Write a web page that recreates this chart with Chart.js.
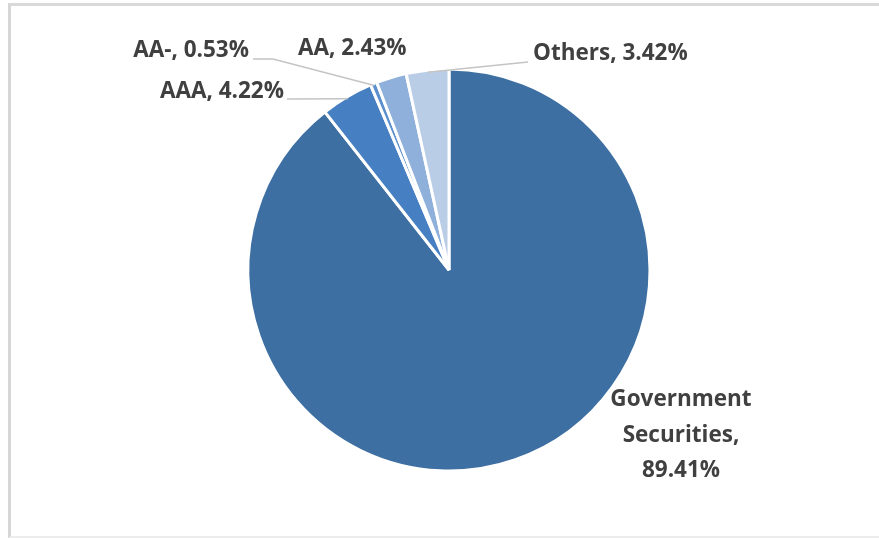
<!DOCTYPE html>
<html>
<head>
<meta charset="utf-8">
<title>Portfolio by rating</title>
<script src="https://cdn.jsdelivr.net/npm/chart.js@4.4.1/dist/chart.umd.min.js"></script>
<style>
  html, body { margin: 0; padding: 0; background: #fff; overflow: hidden; }
  .frame {
    position: absolute; left: 8px; top: 3px; width: 880px; height: 530px;
    border-left: 3px solid #d6d6d6; border-top: 3px solid #d9d9d9; border-bottom: 2px solid #ececec;
  }
  #pie { position: absolute; left: 0; top: 0; }
</style>
</head>
<body>
<div class="frame"></div>
<canvas id="pie" width="879" height="538"></canvas>
<script>
// slices, clockwise from 12 o'clock
const categories = ["Government Securities", "AAA", "AA-", "AA", "Others"];
const shares = [89.41, 4.22, 0.53, 2.43, 3.42];
const sliceColors = ["#3d6fa2", "#4680c2", "#5b8fcd", "#8eb0da", "#b9cde6"];

// where each label sits, relative to the pie centre
const labelLayout = [
  { dx: 232, dy: 130, align: "center", wrap: true, lineGap: 35.5 },
  { dx: -165, dy: -178, align: "right", leader: [[-162, -171]] },
  { dx: -200, dy: -219, align: "right", leader: [[-196, -211], [-176, -211]] },
  { dx: -151, dy: -221, align: "left" },
  { dx: 84, dy: -216, align: "left", leader: [[79, -208]] },
];

const labelFont = "bold 22.5px 'Open Sans', 'DejaVu Sans', sans-serif";

const outsideLabels = {
  id: "outsideLabels",
  afterDatasetsDraw(chart) {
    const ctx = chart.ctx;
    const arcs = chart.getDatasetMeta(0).data;
    ctx.save();
    arcs.forEach((arc, i) => {
      const lay = labelLayout[i];
      const cx = arc.x, cy = arc.y;
      const mid = (arc.startAngle + arc.endAngle) / 2;
      const r = arc.outerRadius;

      // leader line from label to the slice edge
      if (lay.leader) {
        ctx.beginPath();
        lay.leader.forEach((p, k) => {
          if (k === 0) ctx.moveTo(cx + p[0], cy + p[1]);
          else ctx.lineTo(cx + p[0], cy + p[1]);
        });
        ctx.lineTo(cx + Math.cos(mid) * (r - 2), cy + Math.sin(mid) * (r - 2));
        ctx.strokeStyle = "#c4c4c4";
        ctx.lineWidth = 1.5;
        ctx.stroke();
      }

      const value = shares[i].toFixed(2) + "%";
      let lines;
      if (lay.wrap) {
        const words = categories[i].split(" ");
        words[words.length - 1] += ",";
        lines = [...words, value];
      } else {
        lines = [categories[i] + ", " + value];
      }

      ctx.font = labelFont;
      ctx.fillStyle = "#404040";
      ctx.textAlign = lay.align;
      ctx.textBaseline = "middle";
      lines.forEach((t, k) => {
        ctx.fillText(t, cx + lay.dx, cy + lay.dy + k * (lay.lineGap || 0));
      });
    });
    ctx.restore();
  },
};

new Chart(document.getElementById("pie"), {
  type: "pie",
  data: {
    labels: categories,
    datasets: [
      {
        data: shares,
        backgroundColor: sliceColors,
        borderColor: "#ffffff",
        borderWidth: 3,
      },
    ],
  },
  options: {
    responsive: false,
    animation: false,
    radius: 201,
    layout: { padding: { left: 249, right: 230, top: 70, bottom: 68 } },
    plugins: {
      legend: { display: false },
      tooltip: { enabled: false },
    },
  },
  plugins: [outsideLabels],
});
</script>
</body>
</html>
